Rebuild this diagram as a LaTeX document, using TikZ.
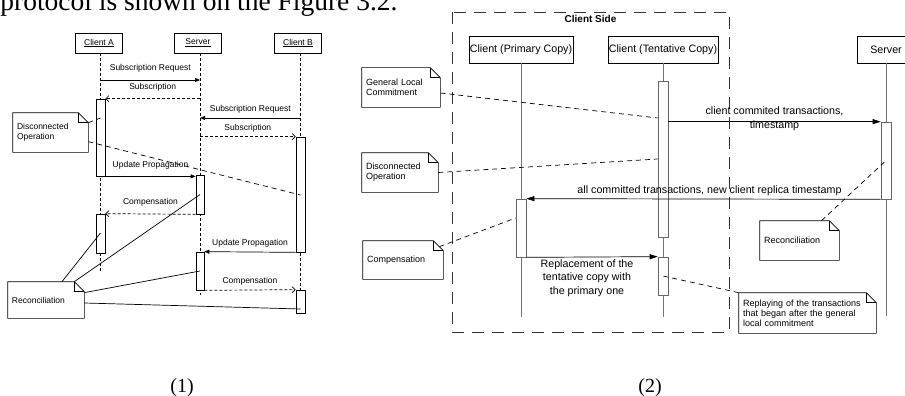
\documentclass[tikz,border=0pt]{standalone}
\usepackage{fontspec}
\setmainfont{Liberation Serif}
\newfontfamily\diag{Liberation Sans}
\usetikzlibrary{arrows.meta, calc}

\begin{document}
\begin{tikzpicture}[x=1pt, y=-1pt, line width=0.7pt,
  obj/.style={draw, inner sep=1pt, minimum width=47pt, minimum height=20pt, font=\diag\fontsize{8.5}{10}\selectfont},
  bigobj/.style={draw, inner sep=1pt, minimum height=27pt, font=\diag\fontsize{10.7}{13}\selectfont},
  bar/.style={draw, fill=white, inner sep=0pt, minimum width=9pt},
  rbar/.style={draw=black!60, fill=white, inner sep=0pt, minimum width=10pt},
  life/.style={dash pattern=on 3pt off 2pt},
  rlife/.style={draw=black!55, line width=0.9pt},
  msg/.style={-{Triangle[length=5pt,width=4pt]}},
  rmsg/.style={-{Triangle[length=8pt,width=5pt]}},
  ret/.style={dash pattern=on 3pt off 2pt, -{Straight Barb[length=3pt,width=6pt]}},
  link/.style={dash pattern=on 5pt off 4pt},
  frame/.style={draw=black!80, dash pattern=on 12pt off 8pt},
  lbl/.style={midway, above=3pt, inner sep=1pt, font=\diag\fontsize{8.5}{10}\selectfont},
  rlbl/.style={midway, inner sep=1pt, align=center, font=\diag\fontsize{10.7}{13.5}\selectfont},
  note/.style={inner xsep=4pt, inner ysep=0pt, align=left, font=\diag\fontsize{8.5}{10.5}\selectfont},
  rnote/.style={note, font=\diag\fontsize{9}{9.8}\selectfont}]
  \useasboundingbox (0,0) rectangle (905,396);
  \clip (0,0) rectangle (905,396);

  \node[anchor=base west, inner sep=0pt, font=\fontsize{27.5}{30}\selectfont] (intro) at (0,11) {protocol is shown on the Figure 3.2.};

  \node[obj] (clientA) at (99,43) {\underline{Client A}};
  \node[obj] (server) at (198,43) {\underline{Server}};
  \node[obj] (clientB) at (298,43) {\underline{Client B}};
  \draw[life] (clientA.south -| 100.5,0) -- ++(0,219);
  \draw[life] (server.south -| 200,0) -- ++(0,242);
  \draw[life] (clientB.south -| 300.5,0) -- ++(0,260);

  \node[bar, minimum height=77pt] (a1) at (100.5,137.5) {};
  \node[bar, minimum height=39pt] (a2) at (100.5,233.5) {};
  \node[bar, minimum width=8pt, minimum height=39pt] (s1) at (200,194.5) {};
  \node[bar, minimum width=8pt, minimum height=38pt] (s2) at (200,271) {};
  \node[bar, minimum height=115pt] (b1) at (300.5,194.5) {};
  \node[bar, minimum height=23pt] (b2) at (300.5,301.5) {};

  \draw[msg] (a1 |- 0,80) -- (s1 |- 0,80) node[lbl, yshift=3pt] {Subscription Request};
  \draw[ret] (s1 |- a1.north) -- (a1.north east) node[lbl, yshift=3pt] {Subscription};
  \draw[msg] (b1 |- 0,118) -- (s1 |- 0,118) node[lbl] {Subscription Request};
  \draw[ret] (s1 |- b1.north) -- (b1.north west) node[lbl] {Subscription};
  \draw[msg] (a1.south east) -- (a1.south east -| s1.west) node[lbl, yshift=3pt] {Update Propagation};
  \draw[ret] (s1.south west) -- (a2.north east) node[lbl, yshift=3pt] {Compensation};
  \draw[msg] (b1.south west) -- (s2.north east) node[lbl] {Update Propagation};
  \draw[ret] (s2.south east) -- (b2.north west) node[lbl] {Compensation};

  \node[note, text width=67pt, minimum height=39pt] (disA) at (50.5,132.5) {Disconnected\\Operation};
  \node[note, text width=68pt, minimum height=36pt] (recA) at (46,300) {Reconciliation};
  \draw[link] ([yshift=-10pt]disA.north east) -- (a1.center |- 0,118);
  \draw[link] ([yshift=-29pt]disA.north east) -- (b1.center |- 0,195);
  \draw ([xshift=16pt]recA.north) -- (a2.center |- 0,233);
  \draw ([xshift=-10pt]recA.north east) -- (s1.center);
  \draw ([yshift=-11pt]recA.north east) -- (s2.center);
  \draw ([yshift=-3pt]recA.east) -- (b2.center |- 0,309);

  \draw[frame] (452,12) rectangle (729,332);
  \node[font=\diag\bfseries\fontsize{10}{12}\selectfont] (side) at (590.5,19) {Client Side};

  \node[bigobj, minimum width=104pt] (primary) at (521,49.5) {Client (Primary Copy)};
  \node[bigobj, minimum width=110pt] (tentative) at (663,49.5) {Client (Tentative Copy)};
  \node[bigobj, minimum width=58pt] (srv) at (886,49.5) {Server};
  \draw[rlife] (primary.south) -- ++(0,254);
  \draw[rlife] (tentative.south) -- ++(0,254);
  \draw[rlife] (srv.south) -- ++(0,253);

  \node[rbar, minimum height=156pt] (t1) at (663,159) {};
  \node[rbar, minimum height=38pt] (t2) at (663,276) {};
  \node[rbar, minimum height=77pt] (sv1) at (886,160.5) {};
  \node[rbar, minimum height=58pt] (p1) at (521,228) {};

  \draw[rmsg] (t1.east |- sv1.north) -- (sv1.north west) node[rlbl, yshift=3pt] {client commited transactions,\\timestamp};
  \draw[rmsg] (sv1.south west) -- (p1.north east) node[rlbl, above=2pt, xshift=6pt] {all committed transactions, new client replica timestamp};
  \draw[rmsg] (p1.south east) -- (t2.north west) node[rlbl, below=1pt, xshift=-5pt] {Replacement of the\\tentative copy with\\the primary one};

  \node[rnote, text width=70pt, minimum height=39pt] (gen) at (401,87.5) {General Local\\Commitment};
  \node[rnote, text width=68pt, minimum height=39pt] (offl) at (400,172.5) {Disconnected\\Operation};
  \node[rnote, text width=72pt, minimum height=38pt] (comp) at (403,260) {Compensation};
  \node[rnote, text width=71pt, minimum height=39pt] (recB) at (799.5,240.5) {Reconciliation};
  \node[rnote, text width=129pt, minimum height=40pt] (replay) at (807.5,313) {Replaying of the transactions\\that began after the general\\local commitment};
  \draw[link] ([yshift=-5.5pt]gen.east) -- (t1.west |- 0,118);
  \draw[link] (offl.east) -- (t1.west |- 0,159);
  \draw[link] ([xshift=-4pt, yshift=-6pt]comp.north east) -- (p1.west |- 0,218);
  \draw[link] ([xshift=22pt]recB.north) -- (sv1.center);
  \draw[link] (replay.north west) -- (t2.center);

  \foreach \n in {disA, recA, gen, offl, comp, recB, replay} {
    \draw (\n.north west) -- ([xshift=-10pt]\n.north east) -- ([yshift=-10pt]\n.north east) -- (\n.south east) -- (\n.south west) -- cycle;
    \draw[line width=1.1pt] ([xshift=-10pt]\n.north east) |- ([yshift=-10pt]\n.north east);
  }

  \node[font=\fontsize{20}{22}\selectfont] (cap1) at (182,388) {(1)};
  \node[font=\fontsize{20}{22}\selectfont] (cap2) at (650,388) {(2)};
\end{tikzpicture}
\end{document}
